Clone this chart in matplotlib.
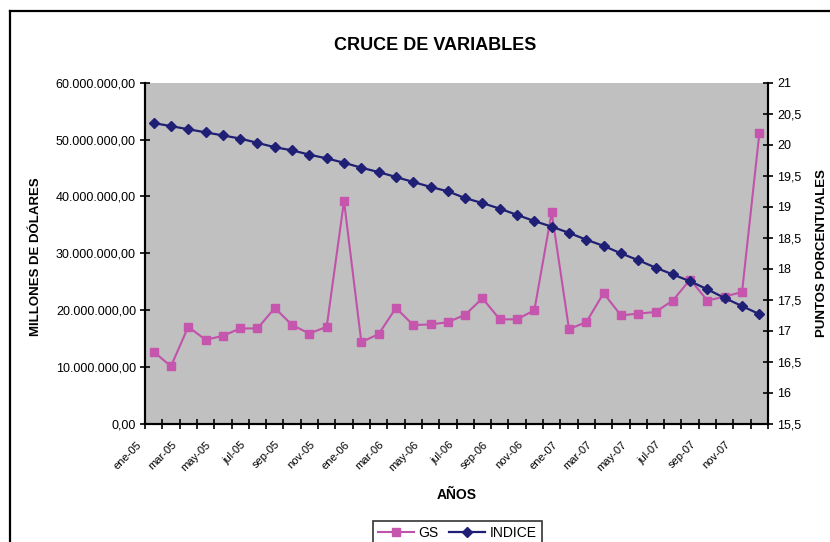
import numpy as np
import matplotlib.pyplot as plt
from matplotlib.lines import Line2D
from matplotlib.ticker import FuncFormatter
import matplotlib.transforms as mtransforms

plt.rcParams['font.family'] = ['Liberation Sans', 'DejaVu Sans']

# meses ene-05 .. dic-07
meses = ['ene', 'feb', 'mar', 'abr', 'may', 'jun', 'jul', 'ago', 'sep', 'oct', 'nov', 'dic']
anios = ['05', '06', '07']
categorias = [m + '-' + a for a in anios for m in meses]

gs = np.array([12.7, 10.15, 17.1, 14.8, 15.5, 16.8, 16.8, 20.4, 17.4, 15.9, 17.1, 39.2,
               14.4, 15.8, 20.4, 17.4, 17.5, 17.9, 19.2, 22.1, 18.4, 18.4, 20.0, 37.2,
               16.7, 17.9, 23.0, 19.1, 19.4, 19.7, 21.7, 25.4, 21.7, 22.4, 23.2, 51.1]) * 1e6

indice = [20.35, 20.30, 20.25, 20.20, 20.15, 20.10, 20.03, 19.96, 19.91, 19.84, 19.78, 19.71,
          19.63, 19.56, 19.48, 19.40, 19.32, 19.25, 19.14, 19.06, 18.97, 18.87, 18.77, 18.68,
          18.58, 18.47, 18.37, 18.25, 18.14, 18.02, 17.91, 17.80, 17.67, 17.53, 17.40, 17.27]

W, H = 830, 542
fig = plt.figure(figsize=(W / 100, H / 100), dpi=100)

# marco exterior del grafico
fig.add_artist(Line2D([10 / W, 10 / W], [-0.1, 1 - 11 / H], color='black', lw=1.6))
fig.add_artist(Line2D([10 / W, 1.1], [1 - 11 / H, 1 - 11 / H], color='black', lw=1.6))

x0, x1, y0, y1 = 145, 768, 82.7, 424
ax = fig.add_axes([x0 / W, 1 - y1 / H, (x1 - x0) / W, (y1 - y0) / H])
ax.set_facecolor('#c0c0c0')
ax2 = ax.twinx()

x = np.arange(len(categorias))
l1, = ax.plot(x, gs, color='#c052aa', lw=1.5, marker='s', ms=5.5,
              markerfacecolor='#c555ad', markeredgecolor='#c555ad', label='GS')
l2, = ax2.plot(x, indice, color='#1f1f75', lw=1.6, marker='D', ms=5,
               markerfacecolor='#1f1f75', markeredgecolor='#1f1f75', label='INDICE')

ax.set_xlim(-0.5, len(categorias) - 0.5)
ax.set_ylim(0, 60e6)
ax2.set_ylim(15.5, 21)

ax.set_yticks(np.arange(0, 60e6 + 1, 10e6))
ax.yaxis.set_major_formatter(FuncFormatter(
    lambda v, p: '{:,.2f}'.format(v).replace(',', 'X').replace('.', ',').replace('X', '.')))
ax2.set_yticks(np.arange(15.5, 21.01, 0.5))
ax2.yaxis.set_major_formatter(FuncFormatter(
    lambda v, p: ('%g' % v).replace('.', ',')))

# marcas entre categorias, etiquetas cada dos meses
ax.set_xticks(np.arange(-0.5, len(categorias), 1))
ax.set_xticklabels([])
ax.set_xticks(x[::2], minor=True)
ax.set_xticklabels(categorias[::2], minor=True, rotation=45, ha='right', va='top',
                   rotation_mode='anchor', fontsize=8)
ax.tick_params(axis='x', which='major', direction='inout', length=7, width=1.2)
ax.tick_params(axis='x', which='minor', length=0, pad=6)
off = mtransforms.ScaledTranslation(-0.17, -0.07, fig.dpi_scale_trans)
for lab in ax.get_xticklabels(minor=True):
    lab.set_transform(lab.get_transform() + off)

ax.tick_params(axis='y', direction='inout', length=7, width=1.2, labelsize=9, pad=3)
ax2.tick_params(axis='y', direction='inout', length=7, width=1.2, labelsize=9, pad=3)

for a in (ax, ax2):
    a.spines['top'].set_visible(False)
    a.spines['left'].set_linewidth(1.5)
    a.spines['right'].set_linewidth(1.5)
    a.spines['bottom'].set_linewidth(1.5)

fig.text(435 / W, 1 - 46 / H, 'CRUCE DE VARIABLES', ha='center', va='center',
         fontsize=13, fontweight='bold')
fig.text(36 / W, 1 - 257 / H, 'MILLONES DE DÓLARES', ha='center', va='center',
         rotation=90, fontsize=9.5, fontweight='bold')
fig.text(822 / W, 1 - 253 / H, 'PUNTOS PORCENTUALES', ha='center', va='center',
         rotation=90, fontsize=9.5, fontweight='bold')
fig.text(457 / W, 1 - 495 / H, 'AÑOS', ha='center', va='center',
         fontsize=10, fontweight='bold')

leg = fig.legend([l1, l2], ['GS', 'INDICE'], loc='upper left',
                 bbox_to_anchor=(373 / W, 1 - 521 / H), ncol=2, fontsize=10,
                 frameon=True, fancybox=False, borderpad=0.35, handlelength=2.6,
                 handletextpad=0.3, columnspacing=0.8, borderaxespad=0)
leg.get_frame().set_edgecolor('black')
leg.get_frame().set_linewidth(1.2)

fig.savefig('out.png', dpi=100)
